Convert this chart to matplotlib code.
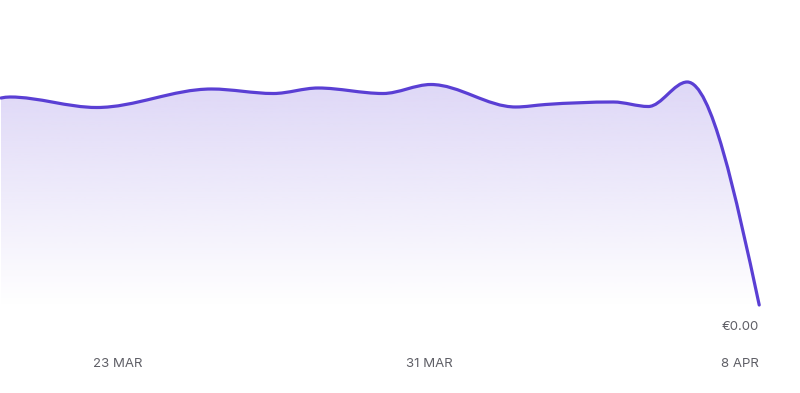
import matplotlib.pyplot as plt
import numpy as np
from matplotlib.path import Path
from matplotlib.patches import PathPatch
from matplotlib.colors import to_rgb

# days since 20 MAR 00:00
days = [0.0, 0.23, 2.46, 5.41, 7.0, 8.15, 9.82, 11.05, 13.23, 14.0, 15.74, 16.64, 17.64, 19.49]
balance = [207, 208, 197.5, 216, 211.5, 217, 211.5, 220.5, 198, 200.5, 203, 198.5, 223, 0]

tick_days = [3, 11, 19]
tick_labels = ["23 MAR", "31 MAR", "8 APR"]
last_label = "€0.00"

LINE = "#5a3fd4"
FILL = "#ded7f7"
TEXT = "#5f5f66"


def monotone_slopes(x, y):
    # same tangents as d3.curveMonotoneX
    n = len(x)
    h = np.diff(x)
    s = np.diff(y) / h
    m = np.zeros(n)
    for i in range(1, n - 1):
        p = (s[i - 1] * h[i] + s[i] * h[i - 1]) / (h[i - 1] + h[i])
        m[i] = (np.sign(s[i - 1]) + np.sign(s[i])) * min(abs(s[i - 1]), abs(s[i]), 0.5 * abs(p))
    m[0] = (3 * s[0] - m[1]) / 2
    m[-1] = (3 * s[-1] - m[-2]) / 2
    return m


def curve_path(x, y, close_to=None):
    m = monotone_slopes(x, y)
    verts = [(x[0], y[0])]
    codes = [Path.MOVETO]
    for i in range(len(x) - 1):
        dx = (x[i + 1] - x[i]) / 3
        verts += [(x[i] + dx, y[i] + dx * m[i]),
                  (x[i + 1] - dx, y[i + 1] - dx * m[i + 1]),
                  (x[i + 1], y[i + 1])]
        codes += [Path.CURVE4] * 3
    if close_to is not None:
        verts += [(x[-1], close_to), (x[0], close_to), (x[0], y[0])]
        codes += [Path.LINETO, Path.LINETO, Path.CLOSEPOLY]
    return Path(verts, codes)


x = np.array(days)
y = np.array(balance, dtype=float)

fig = plt.figure(figsize=(8, 3.93), dpi=100)
ax = fig.add_axes([0, 88 / 393, 1, 305 / 393])
ax.set_xlim(-1 / 39, 801 / 39)
ax.set_ylim(0, 305)

# gradient fill under the curve
top = 225
rgb = to_rgb(FILL)
grad = np.zeros((256, 1, 4))
grad[:, 0, :3] = rgb
grad[:, 0, 3] = np.linspace(1, 0, 256)
img = ax.imshow(grad, aspect="auto", extent=[x[0], x[-1], 0, top],
                origin="upper", zorder=1)
clip = PathPatch(curve_path(x, y, close_to=0), transform=ax.transData,
                 facecolor="none", edgecolor="none")
ax.add_patch(clip)
img.set_clip_path(clip)

line = PathPatch(curve_path(x, y), transform=ax.transData, facecolor="none",
                 edgecolor=LINE, linewidth=2.3, capstyle="round", zorder=3)
line.set_clip_on(False)
ax.add_patch(line)

ax.set_xticks(tick_days)
ax.set_xticklabels(tick_labels)
ax.tick_params(axis="x", length=0, pad=38, labelsize=9.5, labelcolor=TEXT)
for lbl in ax.get_xticklabels():
    lbl.set_fontfamily("Inter")
ax.set_yticks([])
for sp in ax.spines.values():
    sp.set_visible(False)

ax.annotate(last_label, xy=(x[-1], 0), xytext=(0, -16), textcoords="offset points",
            ha="right", va="center", fontsize=9.5, color=TEXT, family="Inter",
            annotation_clip=False)

fig.savefig("out.png", dpi=100)
